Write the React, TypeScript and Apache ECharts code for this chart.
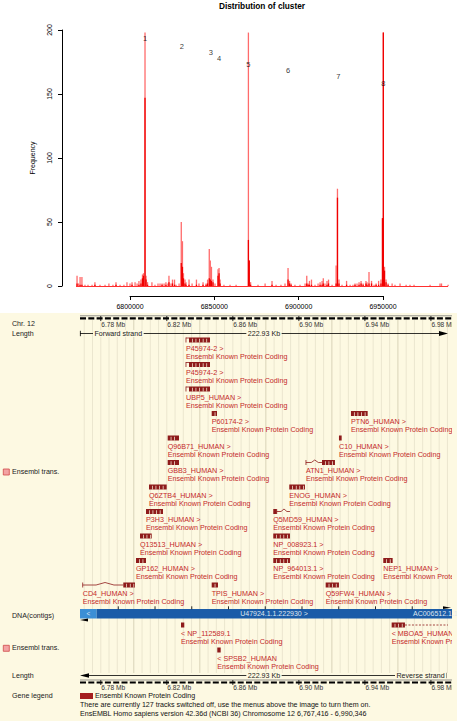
import React, { useEffect, useRef } from "react";
import * as echarts from "echarts";

const FONT = "'Liberation Sans', Arial, Helvetica, sans-serif";

// ---------------- Histogram (top) ----------------
const histTitle = "Distribution of cluster";
const histYName = "Frequency";
const histXTicks = [6800000, 6850000, 6900000, 6950000];

const binPos = [
  6768600, 6769500, 6770400, 6771500, 6773300, 6775100, 6777500, 6779200, 6782200, 6785200,
  6787500, 6789900, 6791700, 6794100, 6796400, 6798200, 6800000, 6801200, 6803000, 6804200,
  6805300, 6806500, 6807400, 6808000, 6808900, 6809500, 6810400, 6813000, 6814800, 6816600,
  6817800, 6819000, 6820200, 6821300, 6822500, 6823100, 6824300, 6825200, 6826400, 6827300,
  6829100, 6830400, 6831100, 6831700, 6832600, 6833200, 6835000, 6836800, 6839400, 6840900,
  6843300, 6845100, 6846000, 6847000, 6847600, 6848300, 6849200, 6850400, 6852200, 6852800,
  6853400, 6855700, 6859300, 6862900, 6870200, 6870700, 6871500, 6875900, 6880100, 6884200,
  6886600, 6889500, 6891900, 6893700, 6894600, 6895500, 6897800, 6900800, 6903800, 6904800,
  6905600, 6906400, 6907600, 6909700, 6911500, 6912700, 6913900, 6914600, 6915600, 6916800,
  6917700, 6919800, 6922200, 6923000, 6923900, 6925700, 6928400, 6930500, 6932200, 6933400,
  6934600, 6935800, 6937000, 6938200, 6939900, 6940500, 6941700, 6943200, 6944700, 6945900,
  6947400, 6948800, 6949700, 6950200, 6950900, 6951800, 6953000, 6955400, 6957100, 6960100,
  6963700, 6966000, 6968400, 6977900, 6983800, 6984700, 6988600,
];
const freqLight = [
  8, 2, 7, 7, 1, 1, 1, 3, 1, 1,
  2, 1, 3, 1, 1, 3, 2, 3, 3, 2,
  4, 5, 9, 10, 198, 8, 3, 3, 1, 2,
  2, 2, 2, 3, 2, 8, 2, 5, 5, 1,
  2, 50, 35, 10, 5, 3, 5, 2, 5, 2,
  3, 2, 5, 29, 20, 15, 5, 2, 13, 14,
  5, 1, 1, 1, 198, 20, 3, 1, 2, 4,
  1, 1, 2, 14, 4, 2, 1, 1, 2, 8,
  2, 4, 5, 1, 2, 3, 4, 6, 2, 4,
  5, 1, 16, 76, 5, 1, 4, 1, 1, 2,
  2, 3, 4, 2, 4, 3, 11, 4, 1, 2,
  4, 5, 53, 198, 15, 5, 2, 2, 1, 2,
  1, 1, 1, 1, 2, 2, 1,
];
const freqDark = [
  2, 0, 1, 1, 0, 0, 0, 1, 0, 0,
  0, 0, 1, 0, 0, 0, 0, 1, 0, 0,
  1, 2, 6, 8, 147, 5, 1, 0, 0, 0,
  0, 1, 0, 1, 0, 3, 0, 2, 1, 0,
  0, 18, 15, 6, 2, 1, 1, 0, 1, 0,
  1, 1, 2, 6, 5, 4, 3, 0, 8, 10,
  2, 0, 0, 0, 36, 20, 1, 0, 0, 1,
  0, 0, 0, 5, 2, 1, 0, 0, 0, 2,
  1, 1, 1, 0, 0, 1, 1, 2, 0, 1,
  2, 0, 2, 69, 2, 0, 1, 0, 0, 1,
  0, 1, 2, 1, 2, 1, 2, 2, 0, 1,
  1, 2, 53, 198, 12, 3, 1, 0, 0, 0,
  0, 0, 0, 0, 0, 0, 0,
];
const baselineRange = [6768000, 6988600];

const clusterLabels = ["1", "2", "3", "4", "5", "6", "7", "8"];
const clusterPos = [6808900, 6830800, 6847900, 6852800, 6870100, 6893700, 6923500, 6950200];
const clusterFreq = [193.5, 187.5, 182.6, 178, 173.2, 168, 163.3, 158];

// ---------------- Ensembl view (bottom) ----------------
const regionStart = 6767416;
const regionEnd = 6990346;
const regionLenLabel = "222.93 Kb";

const rulerTicks = [6780000, 6820000, 6860000, 6900000, 6940000, 6980000];
const rulerLabels = ["6.78 Mb", "6.82 Mb", "6.86 Mb", "6.90 Mb", "6.94 Mb", "6.98 Mb"];
const contigTicks = [6790600, 6812860, 6835120, 6857380, 6879640, 6901900, 6924160, 6946420, 6968680];
const contigLabels = ["<", "U47924.1.1.222930 >", "AC006512.1.1"];

const fwdNames = [
  "P45974-2", "P45974-2", "UBP5_HUMAN", "P60174-2", "PTN6_HUMAN", "Q96B71_HUMAN", "C10_HUMAN",
  "GBB3_HUMAN", "ATN1_HUMAN", "Q6ZTB4_HUMAN", "ENOG_HUMAN", "P3H3_HUMAN", "Q5MD59_HUMAN",
  "Q13513_HUMAN", "NP_008923.1", "GP162_HUMAN", "NP_964013.1", "NEP1_HUMAN", "CD4_HUMAN",
  "TPIS_HUMAN", "Q59FW4_HUMAN",
];
const fwdRow = [0, 1, 2, 3, 3, 4, 4, 5, 5, 6, 6, 7, 7, 8, 8, 9, 9, 9, 10, 10, 10];
const fwdStart = [
  6831620, 6831620, 6831620, 6847190, 6931560, 6820540, 6924290, 6820540, 6904300, 6809210,
  6894190, 6807390, 6884500, 6803760, 6884500, 6801340, 6884500, 6951130, 6769050, 6847190, 6916240,
];
const fwdEnd = [
  6846160, 6846160, 6846160, 6850400, 6941680, 6827380, 6925930, 6827380, 6921870, 6819930,
  6903700, 6817690, 6894610, 6810850, 6894610, 6807390, 6894610, 6956820, 6800730, 6851000, 6924290,
];
const fwdIntronFrom = [
  6831620, 6831620, 6831620, 6847190, 6931560, 6820540, 6924290, 6820540, 6904300, 6809210,
  6894190, 6807390, 6886560, 6803760, 6884500, 6801340, 6884500, 6951130, 6769050, 6847190, 6916240,
];
const fwdIntronTo = [
  6833440, 6833440, 6833440, 6847190, 6931560, 6820540, 6924290, 6820540, 6914000, 6809210,
  6894190, 6807390, 6894610, 6803760, 6884500, 6801340, 6884500, 6951130, 6793640, 6847190, 6916240,
];

const revNames = ["NP_112589.1", "MBOA5_HUMAN", "SPSB2_HUMAN"];
const revRow = [0, 0, 1];
const revStart = [6828590, 6956210, 6850580];
const revEnd = [6830590, 6964270, 6852640];
const revTail = [6830590, 6990346, 6852640];

const geneDesc = "Ensembl Known Protein Coding";
const trackLabels = ["Chr. 12", "Length", "Ensembl trans.", "DNA(contigs)", "Ensembl trans.", "Length", "Gene legend"];
const strandLabels = ["Forward strand", "Reverse strand"];
const footerLines = [
  "There are currently 127 tracks switched off, use the menus above the image to turn them on.",
  "EnsEMBL Homo sapiens version 42.36d (NCBI 36) Chromosome 12 6,767,416 - 6,990,346",
];

// colours
const BG = "#fdf9e2";
const GLYPH = "#8e1b1b";
const GTXT = "#c42a2a";
const LBL = "#222222";

const HX_PX = 253 / 150000; // px per bp for histogram
const HX_MIN = 6800000 - 68 / HX_PX;
const HX_MAX = HX_MIN + 393 / HX_PX;

function makeGeneRender(names: string[], reverse: boolean) {
  return (params: any, api: any) => {
    const i = params.dataIndex;
    const s = api.value(0);
    const e = api.value(1);
    const row = api.value(2);
    const iFrom = api.value(3);
    const iTo = api.value(4);
    const tail = api.value(5);
    const p0 = api.coord([s, row]);
    const x0 = p0[0];
    const y = p0[1];
    const x1 = api.coord([e, row])[0];
    const xf = api.coord([iFrom, row])[0];
    const xt = api.coord([iTo, row])[0];
    const xTail = api.coord([tail, row])[0];
    const h = 5;
    const top = y - h / 2;
    const children: any[] = [];
    const block = (a: number, b: number) => {
      if (b - a < 0.5) return;
      children.push({ type: "rect", shape: { x: a, y: top, width: Math.max(b - a, 1.5), height: h }, style: { fill: GLYPH } });
      for (let g = a + 3; g < b - 1.5; g += 3.6) {
        children.push({ type: "rect", shape: { x: g, y: top + 1.2, width: 0.7, height: h - 1.2 }, style: { fill: BG } });
      }
    };
    block(x0, xf);
    if (xt - xf > 0.5) {
      children.push({ type: "line", shape: { x1: xf, y1: top, x2: xf, y2: top + h }, style: { stroke: GLYPH, lineWidth: 0.8 } });
      const w = xt - xf;
      if (w > 6) {
        const m = xf + w * 0.55;
        children.push({
          type: "polyline",
          shape: { points: [[xf, y], [m - w * 0.22, y], [m, top], [m + w * 0.22, y], [xt, y]] },
          style: { stroke: GLYPH, lineWidth: 0.8, fill: null },
        });
      } else {
        children.push({ type: "line", shape: { x1: xf, y1: top + 0.5, x2: xt, y2: top + 0.5 }, style: { stroke: GLYPH, lineWidth: 0.8 } });
      }
    }
    block(xt, x1);
    if (xTail - x1 > 1) {
      children.push({ type: "line", shape: { x1: x1, y1: y, x2: xTail, y2: y }, style: { stroke: GLYPH, lineWidth: 0.8, lineDash: [2, 1.5] } });
    }
    const label = reverse ? "< " + names[i] : names[i] + " >";
    children.push({
      type: "text",
      style: { x: x0, y: y + 8, text: label, fontSize: 7.2, fontFamily: FONT, fill: GTXT, verticalAlign: "middle", align: "left" },
    });
    children.push({
      type: "text",
      style: { x: x0, y: y + 16.4, text: geneDesc, fontSize: 7.2, fontFamily: FONT, fill: GTXT, verticalAlign: "middle", align: "left" },
    });
    return {
      type: "group",
      children,
      clipPath: { type: "rect", shape: { x: 0, y: 0, width: 452, height: 721 } },
    };
  };
}

function txt(x: number, y: number, text: string, extra: any = {}) {
  return {
    type: "text",
    z: 10,
    silent: true,
    style: Object.assign(
      { x, y, text, fontSize: 7.1, fontFamily: FONT, fill: LBL, verticalAlign: "middle", align: "left" },
      extra
    ),
  };
}
function hline(x1: number, x2: number, y: number, stroke = "#000", lineWidth = 0.8, extra: any = {}) {
  return { type: "line", z: 9, silent: true, shape: { x1, y1: y, x2, y2: y }, style: Object.assign({ stroke, lineWidth }, extra) };
}
function vline(x: number, y1: number, y2: number, stroke = "#000", lineWidth = 0.8) {
  return { type: "line", z: 9, silent: true, shape: { x1: x, y1, x2: x, y2 }, style: { stroke, lineWidth } };
}
function icon(x: number, y: number) {
  return [
    { type: "rect", z: 10, silent: true, shape: { x, y, width: 6, height: 6 }, style: { fill: "#f3a3a3", stroke: "#d04a4a", lineWidth: 0.8 } },
    hline(x + 1.5, x + 4.5, y + 3, "#ffffff", 1),
  ];
}

export default function App() {
  const ref = useRef<HTMLDivElement>(null);
  useEffect(() => {
    if (!ref.current) return;
    const chart = echarts.init(ref.current, undefined, { renderer: "svg" });

    const lightData = binPos.map((p, i) => [p, freqLight[i]]);
    const darkData = binPos.map((p, i) => [p, freqDark[i]]);
    const clusterData = clusterPos.map((p, i) => [p, clusterFreq[i]]);
    const fwdData = fwdStart.map((s, i) => [s, fwdEnd[i], fwdRow[i], fwdIntronFrom[i], fwdIntronTo[i], fwdEnd[i]]);
    const revData = revStart.map((s, i) => [s, revEnd[i], revRow[i], s, s, revTail[i]]);
    const gridTicks: number[] = [];
    for (let v = 6770000; v <= 6990000; v += 5000) gridTicks.push(v);

    const graphics: any[] = [
      { type: "rect", z: -10, silent: true, shape: { x: 0, y: 313, width: 457, height: 408 }, style: { fill: BG } },
      txt(262, 6.2, histTitle, { align: "center", fontSize: 8.3, fontWeight: "bold", fill: "#000" }),
      // left track labels
      txt(12, 324, trackLabels[0]),
      txt(12, 333.5, trackLabels[1]),
      txt(12, 471.7, trackLabels[2]),
      txt(12, 615.7, trackLabels[3]),
      txt(12, 648.3, trackLabels[4]),
      txt(12, 675.5, trackLabels[5]),
      txt(12, 696, trackLabels[6]),
      ...icon(3.3, 469),
      ...icon(3.3, 645.3),
      // top ruler
      hline(80, 452, 315.8, "#666", 0.7),
      hline(80, 452, 318.3, "#000", 2.2, { lineDash: [6, 2.3] }),
      // forward strand length line
      hline(80, 442, 333.5, "#000", 0.8),
      vline(80.4, 330.8, 336.2),
      { type: "polygon", z: 9, silent: true, shape: { points: [[439, 331], [448, 333.5], [439, 336]] }, style: { fill: "#000" } },
      txt(93, 333.5, strandLabels[0], { backgroundColor: BG, padding: [0, 1.5] }),
      txt(264, 333.5, regionLenLabel, { align: "center", backgroundColor: BG, padding: [0, 1.5] }),
      // contig bar
      { type: "rect", z: 10, silent: true, shape: { x: 80, y: 609, width: 16.7, height: 9.5 }, style: { fill: "#3c8fd6" } },
      { type: "rect", z: 10, silent: true, shape: { x: 96.7, y: 609, width: 355.3, height: 9.5 }, style: { fill: "#1b5ca8" } },
      txt(88.3, 613.8, contigLabels[0], { align: "center", fill: "#dfe9f5", fontSize: 6.5, z: 11 }),
      txt(274, 613.8, contigLabels[1], { align: "center", fill: "#dfe6ef", fontSize: 7 }),
      txt(413, 613.8, contigLabels[2], { fill: "#dfe6ef", fontSize: 7 }),
      { type: "polygon", z: 11, silent: true, shape: { points: [[80, 620], [88, 618.6], [88, 621.4]] }, style: { fill: "#000" } },
      { type: "polygon", z: 11, silent: true, shape: { points: [[443, 606.3], [451, 607.7], [443, 609]] }, style: { fill: "#000" } },
      // reverse strand length line
      hline(84, 446, 675.5, "#000", 0.8),
      { type: "polygon", z: 9, silent: true, shape: { points: [[80, 675.5], [89, 673.2], [89, 677.8]] }, style: { fill: "#000" } },
      vline(446, 672.8, 678.2),
      txt(264, 675.5, regionLenLabel, { align: "center", backgroundColor: BG, padding: [0, 1.5] }),
      txt(395, 675.5, strandLabels[1], { backgroundColor: BG, padding: [0, 1.5] }),
      // bottom ruler
      hline(80, 452, 680, "#666", 0.7),
      hline(80, 452, 682.5, "#000", 2.2, { lineDash: [6, 2.3] }),
      // legend
      { type: "rect", z: 10, silent: true, shape: { x: 80, y: 693, width: 13, height: 6 }, style: { fill: "#a51d1d" } },
      txt(95, 696, geneDesc, { fill: "#111" }),
      txt(80, 705.3, footerLines[0], { fill: "#111" }),
      txt(80, 714.3, footerLines[1], { fill: "#111" }),
    ];

    chart.setOption({
      animation: false,
      backgroundColor: "#ffffff",
      textStyle: { fontFamily: FONT },
      grid: [
        { left: 62, top: 30, width: 393, height: 256 },
        { left: 130, top: 290, width: 253, height: 6 },
        { left: 80, top: 340, width: 368, height: 245 },
        { left: 80, top: 625, width: 368, height: 25 },
      ],
      xAxis: [
        { type: "value", gridIndex: 0, min: HX_MIN, max: HX_MAX, show: false },
        {
          type: "value",
          gridIndex: 1,
          min: histXTicks[0],
          max: histXTicks[histXTicks.length - 1],
          interval: 50000,
          axisLine: { show: true, lineStyle: { color: "#000", width: 1 } },
          axisTick: { show: true, length: 4, lineStyle: { color: "#000" } },
          axisLabel: { fontSize: 7, color: "#000", margin: 7, fontFamily: FONT, formatter: (v: number) => String(v) },
          splitLine: { show: false },
        },
        { type: "value", gridIndex: 2, min: regionStart, max: regionEnd, show: false },
        { type: "value", gridIndex: 3, min: regionStart, max: regionEnd, show: false },
      ],
      yAxis: [
        {
          type: "value",
          gridIndex: 0,
          min: 0,
          max: 200,
          interval: 50,
          name: histYName,
          nameLocation: "middle",
          nameGap: 26,
          nameTextStyle: { fontSize: 7, color: "#000", fontFamily: FONT },
          axisLine: { show: true, lineStyle: { color: "#000", width: 1 } },
          axisTick: { show: true, length: 4, lineStyle: { color: "#000" } },
          axisLabel: { rotate: 90, fontSize: 7, color: "#000", margin: 9, fontFamily: FONT },
          splitLine: { show: false },
        },
        { type: "value", gridIndex: 1, show: false, min: 0, max: 1 },
        { type: "value", gridIndex: 2, show: false, min: 0, max: 10, inverse: true },
        { type: "value", gridIndex: 3, show: false, min: 0, max: 1, inverse: true },
      ],
      series: [
        {
          type: "bar",
          name: "light",
          xAxisIndex: 0,
          yAxisIndex: 0,
          data: lightData,
          barWidth: 1.3,
          barGap: "-100%",
          itemStyle: { color: "#ff6b6b" },
          silent: true,
          z: 2,
          markLine: {
            silent: true,
            symbol: "none",
            label: { show: false },
            lineStyle: { color: "#ff3030", width: 1, type: "solid" },
            data: [[{ coord: [baselineRange[0], 0] }, { coord: [baselineRange[1], 0] }]],
          },
        },
        {
          type: "bar",
          name: "dark",
          xAxisIndex: 0,
          yAxisIndex: 0,
          data: darkData,
          barWidth: 1.3,
          barGap: "-100%",
          itemStyle: { color: "#f00000" },
          silent: true,
          z: 3,
        },
        {
          type: "scatter",
          xAxisIndex: 0,
          yAxisIndex: 0,
          data: clusterData,
          symbolSize: 0,
          silent: true,
          z: 4,
          label: {
            show: true,
            position: "inside",
            formatter: (p: any) => clusterLabels[p.dataIndex],
            fontSize: 7.5,
            color: "#000",
            fontFamily: FONT,
          },
        },
        {
          type: "custom",
          xAxisIndex: 2,
          yAxisIndex: 2,
          data: gridTicks.map((v) => [v, 0]),
          silent: true,
          z: 1,
          renderItem: (params: any, api: any) => {
            const v = api.value(0);
            const x = api.coord([v, 0])[0];
            const major = v % 40000 === 0;
            return {
              type: "line",
              shape: { x1: x, y1: 320, x2: x, y2: 673 },
              style: { stroke: major ? "#d9d3b8" : "#ebe6cf", lineWidth: 1 },
            };
          },
        },
        {
          type: "custom",
          xAxisIndex: 2,
          yAxisIndex: 2,
          data: rulerTicks.map((v) => [v, 0]),
          silent: true,
          z: 12,
          renderItem: (params: any, api: any) => {
            const x = api.coord([api.value(0), 0])[0];
            const lab = rulerLabels[params.dataIndex];
            return {
              type: "group",
              clipPath: { type: "rect", shape: { x: 0, y: 0, width: 452, height: 721 } },
              children: [
                { type: "line", shape: { x1: x, y1: 316, x2: x, y2: 321 }, style: { stroke: "#000", lineWidth: 0.8 } },
                { type: "line", shape: { x1: x, y1: 680, x2: x, y2: 685 }, style: { stroke: "#000", lineWidth: 0.8 } },
                { type: "text", style: { x: x + 0.5, y: 324, text: lab, fontSize: 6.6, fontFamily: FONT, fill: "#333", verticalAlign: "middle", align: "left" } },
                { type: "text", style: { x: x + 0.5, y: 687, text: lab, fontSize: 6.6, fontFamily: FONT, fill: "#333", verticalAlign: "middle", align: "left" } },
              ],
            };
          },
        },
        {
          type: "custom",
          xAxisIndex: 2,
          yAxisIndex: 2,
          data: contigTicks.map((v) => [v, 0]),
          silent: true,
          z: 12,
          renderItem: (params: any, api: any) => {
            const x = api.coord([api.value(0), 0])[0];
            return { type: "line", shape: { x1: x, y1: 606.3, x2: x, y2: 609.3 }, style: { stroke: "#111", lineWidth: 0.9 } };
          },
        },
        {
          type: "custom",
          xAxisIndex: 2,
          yAxisIndex: 2,
          data: fwdData,
          encode: { x: 0, y: 2 },
          silent: true,
          z: 5,
          renderItem: makeGeneRender(fwdNames, false),
        },
        {
          type: "custom",
          xAxisIndex: 3,
          yAxisIndex: 3,
          data: revData,
          encode: { x: 0, y: 2 },
          silent: true,
          z: 5,
          renderItem: makeGeneRender(revNames, true),
        },
      ],
      graphic: graphics,
    });
    return () => chart.dispose();
  }, []);
  return (
    <div
      ref={ref}
      style={{ position: "absolute", left: 0, top: 0, width: 457, height: 721, background: "#fff" }}
    />
  );
}
